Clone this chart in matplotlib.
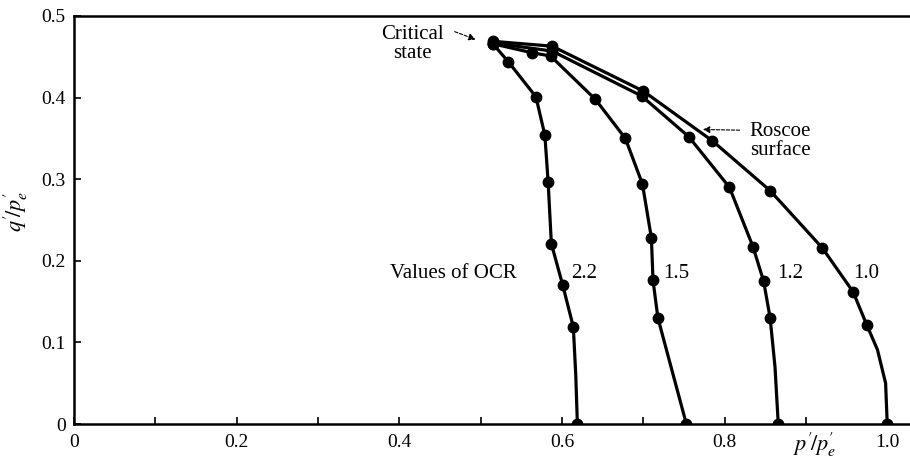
import matplotlib
matplotlib.use("Agg")
import matplotlib.pyplot as plt

plt.rcParams['font.family'] = ['Liberation Serif', 'DejaVu Serif']
plt.rcParams['mathtext.fontset'] = 'stix'

# undrained stress paths, p'/p'e and q'/p'e
ocr_labels = ['1.0', '1.2', '1.5', '2.2']

p_10 = [1.000, 0.998, 0.988, 0.975, 0.958, 0.920, 0.856, 0.785, 0.700, 0.588, 0.515]
q_10 = [0.000, 0.050, 0.091, 0.121, 0.162, 0.216, 0.286, 0.347, 0.408, 0.463, 0.469]

p_12 = [0.866, 0.862, 0.856, 0.848, 0.835, 0.806, 0.756, 0.698, 0.588, 0.515]
q_12 = [0.000, 0.070, 0.130, 0.175, 0.217, 0.290, 0.352, 0.402, 0.457, 0.467]

p_15 = [0.753, 0.718, 0.712, 0.710, 0.699, 0.678, 0.641, 0.586, 0.563, 0.515]
q_15 = [0.000, 0.130, 0.176, 0.228, 0.294, 0.350, 0.398, 0.451, 0.455, 0.466]

p_22 = [0.619, 0.617, 0.614, 0.601, 0.587, 0.583, 0.579, 0.568, 0.534, 0.515]
q_22 = [0.000, 0.060, 0.119, 0.170, 0.221, 0.297, 0.354, 0.401, 0.444, 0.466]

# where the OCR numbers sit
label_p = [0.958, 0.865, 0.724, 0.611]
label_q = [0.185, 0.185, 0.185, 0.185]

fig = plt.figure(figsize=(9.1, 4.61), dpi=100)
ax = fig.add_axes([74/910, 1-424/461, 1-74/910, (424-16)/461])

curves = [(p_10, q_10, [0, 3, 4, 5, 6, 7, 8, 9, 10]),
          (p_12, q_12, [0, 2, 3, 4, 5, 6, 7, 8, 9]),
          (p_15, q_15, list(range(10))),
          (p_22, q_22, [0, 2, 3, 4, 5, 6, 7, 8, 9])]
for p, q, marks in curves:
    ax.plot(p, q, color='black', lw=2.3, marker='o', ms=7.5,
            markevery=marks, solid_joinstyle='round')

for lab, x, y in zip(ocr_labels, label_p, label_q):
    ax.text(x, y, lab, fontsize=15, va='center', ha='left')

ax.text(0.389, 0.185, 'Values of OCR', fontsize=15, va='center', ha='left')

ax.text(0.416, 0.466, 'Critical\nstate', fontsize=15, ha='center', va='center',
        linespacing=1.0)
ax.annotate('', xy=(0.497, 0.470), xytext=(0.465, 0.482),
            arrowprops=dict(arrowstyle='-|>', color='black', lw=0.8,
                            linestyle=(0, (3, 1.5)), mutation_scale=10))

ax.text(0.831, 0.347, 'Roscoe\nsurface', fontsize=15, ha='left', va='center',
        linespacing=1.0)
ax.annotate('', xy=(0.770, 0.361), xytext=(0.822, 0.360),
            arrowprops=dict(arrowstyle='-|>', color='black', lw=0.8,
                            linestyle=(0, (3, 1.5)), mutation_scale=10))

ax.set_xlim(0, 1.028)
ax.set_ylim(0, 0.5)
ax.set_xticks([0, 0.2, 0.4, 0.6, 0.8, 1.0])
ax.set_xticklabels(['0', '0.2', '0.4', '0.6', '0.8', '1.0'])
ax.set_xticks([0.1, 0.3, 0.5, 0.7, 0.9], minor=True)
ax.set_yticks([0, 0.1, 0.2, 0.3, 0.4, 0.5])
ax.set_yticklabels(['0', '0.1', '0.2', '0.3', '0.4', '0.5'])
ax.tick_params(which='both', direction='in', length=5, width=1.2,
               labelsize=14, pad=6)
ax.tick_params(axis='x', pad=7)

for side in ['left', 'bottom', 'top']:
    ax.spines[side].set_linewidth(1.8)
ax.spines['right'].set_visible(False)

ax.text(0.911, -0.025, r"$p^{\prime}\!/p^{\prime}_{e}$", fontsize=16,
        ha='center', va='center', clip_on=False)
ax.text(-0.071, 0.261, r"$q^{\prime}\!/p^{\prime}_{e}$", fontsize=16,
        ha='center', va='center', rotation=90, clip_on=False)

fig.savefig('out.png', dpi=100)
